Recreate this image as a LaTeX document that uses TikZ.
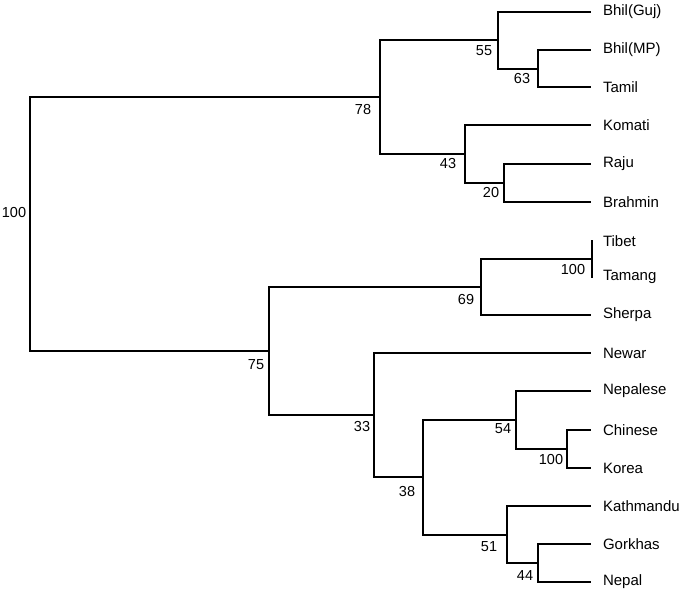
\documentclass[tikz,border=0pt]{standalone}
\usepackage{fontspec}
\setmainfont{Liberation Sans}
\newlength{\du}
\setlength{\du}{1pt}
\tikzset{
  leaf/.style={anchor=west,inner sep=0pt,outer sep=0pt,font=\fontsize{15}{17}\selectfont},
  boot/.style={inner sep=0pt,outer sep=0pt,font=\fontsize{14.5}{16}\selectfont},
  branch/.style={line width=1.3\du,line cap=rect,black},
  tip/.style={branch,shorten >=13\du},
}
\begin{document}
\begin{tikzpicture}
\pgftransformxscale{1.000000}
\pgftransformyscale{-1.000000}
\useasboundingbox[fill=white] (0\du,0\du) rectangle (685\du,595\du);
% leaves
\node[leaf] (bhilguj) at (603\du,12\du){Bhil(Guj)};
\node[leaf] (bhilmp) at (603\du,50\du){Bhil(MP)};
\node[leaf] (tamil) at (603\du,87\du){Tamil};
\node[leaf] (komati) at (603\du,125\du){Komati};
\node[leaf] (raju) at (603\du,164\du){Raju};
\node[leaf] (brahmin) at (603\du,202\du){Brahmin};
\node[leaf] (tibet) at (603\du,241\du){Tibet};
\node[leaf] (tamang) at (603\du,277\du){Tamang};
\node[leaf] (sherpa) at (603\du,315\du){Sherpa};
\node[leaf] (newar) at (603\du,353\du){Newar};
\node[leaf] (nepalese) at (603\du,391\du){Nepalese};
\node[leaf] (chinese) at (603\du,430\du){Chinese};
\node[leaf] (korea) at (603\du,468\du){Korea};
\node[leaf] (kathmandu) at (603\du,506\du){Kathmandu};
\node[leaf] (gorkhas) at (603\du,544\du){Gorkhas};
\node[leaf] (nepal) at (603\du,582\du){Nepal};
% internal nodes
\coordinate (nroot) at (30\du,224\du);
\coordinate (n78) at (380\du,97\du);
\coordinate (n55) at (498\du,40\du);
\coordinate (n63) at (538\du,69\du);
\coordinate (n43) at (465\du,154\du);
\coordinate (n20) at (504\du,183\du);
\coordinate (n75) at (269\du,351\du);
\coordinate (n69) at (481\du,287\du);
\coordinate (ntib) at (592\du,259\du);
\coordinate (n33) at (374\du,415\du);
\coordinate (n38) at (423\du,477\du);
\coordinate (n54) at (516\du,420\du);
\coordinate (nchk) at (567\du,449\du);
\coordinate (n51) at (507\du,535\du);
\coordinate (n44) at (538\du,563\du);
% branches
\draw[branch] (nroot) |- (n78);
\draw[branch] (nroot) |- (n75);
\draw[branch] (n78) |- (n55);
\draw[branch] (n78) |- (n43);
\draw[tip] (n55) |- (bhilguj.west);
\draw[branch] (n55) |- (n63);
\draw[tip] (n63) |- (bhilmp.west);
\draw[tip] (n63) |- (tamil.west);
\draw[tip] (n43) |- (komati.west);
\draw[branch] (n43) |- (n20);
\draw[tip] (n20) |- (raju.west);
\draw[tip] (n20) |- (brahmin.west);
\draw[branch] (n75) |- (n69);
\draw[branch] (n75) |- (n33);
\draw[branch] (n69) |- (ntib);
\draw[tip] (n69) |- (sherpa.west);
\draw[tip,shorten >=11\du] (ntib) |- (tibet.west);
\draw[tip,shorten >=11\du] (ntib) |- (tamang.west);
\draw[tip] (n33) |- (newar.west);
\draw[branch] (n33) |- (n38);
\draw[branch] (n38) |- (n54);
\draw[branch] (n38) |- (n51);
\draw[tip] (n54) |- (nepalese.west);
\draw[branch] (n54) |- (nchk);
\draw[tip] (nchk) |- (chinese.west);
\draw[tip] (nchk) |- (korea.west);
\draw[tip] (n51) |- (kathmandu.west);
\draw[branch] (n51) |- (n44);
\draw[tip] (n44) |- (gorkhas.west);
\draw[tip] (n44) |- (nepal.west);
% bootstrap values
\node[boot] (broot) at (14\du,213\du){100};
\node[boot] (b78) at (363\du,110\du){78};
\node[boot] (b55) at (484\du,51\du){55};
\node[boot] (b63) at (522\du,79\du){63};
\node[boot] (b43) at (448\du,164\du){43};
\node[boot] (b20) at (491\du,193\du){20};
\node[boot] (b75) at (256\du,365\du){75};
\node[boot] (b69) at (466\du,300\du){69};
\node[boot] (btib) at (573\du,270\du){100};
\node[boot] (b33) at (362\du,426\du){33};
\node[boot] (b38) at (407\du,491\du){38};
\node[boot] (b54) at (503\du,429\du){54};
\node[boot] (bchk) at (551\du,459\du){100};
\node[boot] (b51) at (489\du,547\du){51};
\node[boot] (b44) at (525\du,576\du){44};
\end{tikzpicture}
\end{document}
